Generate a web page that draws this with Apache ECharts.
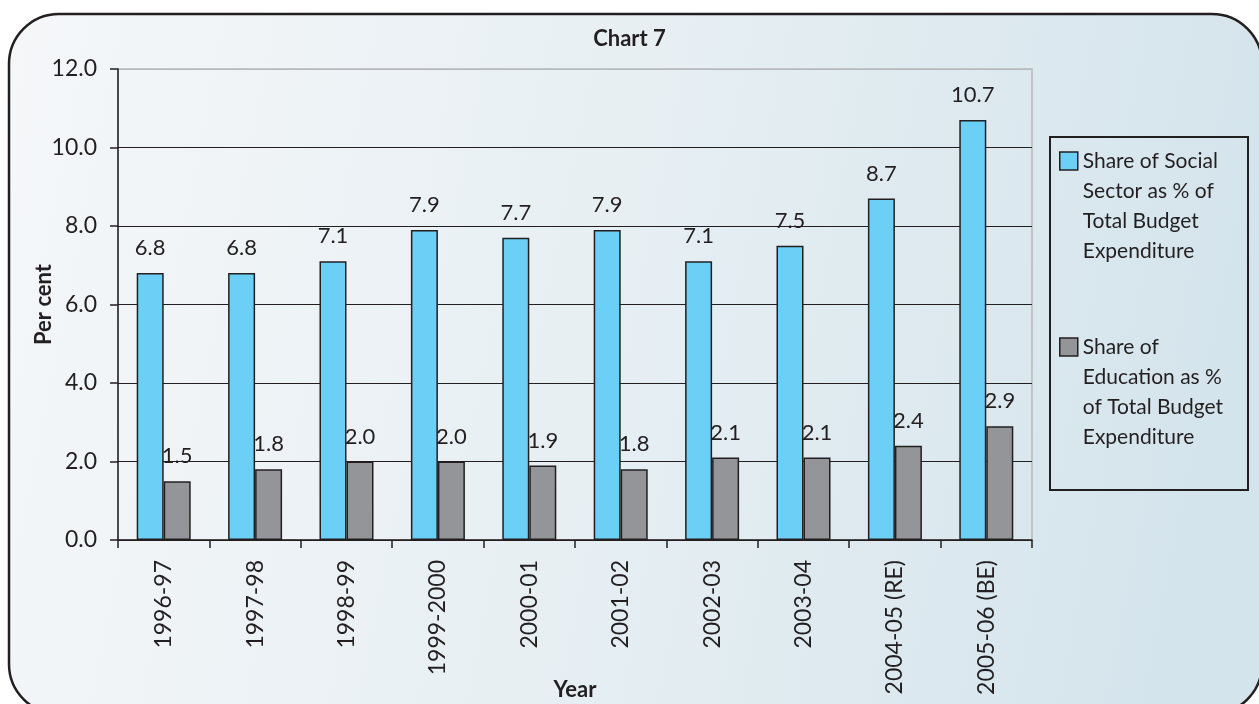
<!DOCTYPE html>
<html>
<head>
<meta charset="utf-8">
<title>Chart 7</title>
<script src="https://cdn.jsdelivr.net/npm/echarts@6/dist/echarts.min.js"></script>
<style>
  html, body { margin: 0; padding: 0; background: #ffffff; }
  #chart { width: 1259px; height: 704px; }
</style>
</head>
<body>
<div id="chart"></div>
<script>
// Fiscal years on the category axis
const years = ['1996-97', '1997-98', '1998-99', '1999-2000', '2000-01',
               '2001-02', '2002-03', '2003-04', '2004-05 (RE)', '2005-06 (BE)'];

// Share of social sector in total budget expenditure (per cent)
const socialSector = [6.8, 6.8, 7.1, 7.9, 7.7, 7.9, 7.1, 7.5, 8.7, 10.7];

// Share of education in total budget expenditure (per cent)
const education = [1.5, 1.8, 2.0, 2.0, 1.9, 1.8, 2.1, 2.1, 2.4, 2.9];

// Legend wording, one entry per line
const socialName = ['Share of Social', 'Sector as % of', 'Total Budget', 'Expenditure'];
const educationName = ['Share of', 'Education as %', 'of Total Budget', 'Expenditure'];

const FONT = 'Lato, "Noto Sans", sans-serif';
const INK = '#231f20';

const chart = echarts.init(document.getElementById('chart'), null, { renderer: 'canvas' });

const barLabel = {
  show: true,
  position: 'top',
  distance: 14,
  color: INK,
  fontFamily: FONT,
  fontSize: 22,
  formatter: p => p.value.toFixed(1)
};

chart.setOption({
  animation: false,
  graphic: [
    {
      // rounded panel behind the whole chart
      type: 'rect',
      z: -10,
      silent: true,
      shape: { x: 9, y: 14, width: 1253, height: 700, r: 50 },
      style: {
        fill: new echarts.graphic.LinearGradient(0, 0, 1, 0.35, [
          { offset: 0, color: '#f5f7f9' },
          { offset: 0.5, color: '#e7eff3' },
          { offset: 1, color: '#d4e4ec' }
        ]),
        stroke: INK,
        lineWidth: 2.5
      }
    },
    {
      // frame around the legend
      type: 'rect',
      z: -5,
      silent: true,
      shape: { x: 1050, y: 137, width: 198, height: 353 },
      style: { fill: 'none', stroke: INK, lineWidth: 2 }
    }
  ],
  title: {
    text: 'Chart 7',
    left: 'center',
    top: 23,
    textStyle: { fontFamily: FONT, fontWeight: 'bold', fontSize: 22, color: INK }
  },
  legend: {
    orient: 'vertical',
    left: 1059,
    top: 56,
    padding: 0,
    itemWidth: 18,
    itemHeight: 18,
    itemGap: -24,
    icon: 'rect',
    itemStyle: { borderColor: INK, borderWidth: 1.5 },
    // leading blank lines put the first text line level with the swatch
    formatter: name => '\n\n\n' + name,
    textStyle: {
      fontFamily: FONT,
      fontSize: 21,
      color: INK,
      lineHeight: 30
    },
    data: [socialName.join('\n'), educationName.join('\n')]
  },
  grid: {
    left: 118,
    right: 227,
    top: 69,
    bottom: 164,
    outerBoundsMode: 'none',
    containLabel: false,
    show: true,
    borderColor: '#b6b9bb',
    borderWidth: 1.5,
    backgroundColor: 'transparent'
  },
  xAxis: {
    type: 'category',
    data: years,
    name: 'Year',
    nameLocation: 'middle',
    nameGap: 139,
    nameMoveOverlap: false,
    nameTextStyle: { fontFamily: FONT, fontWeight: 'bold', fontSize: 22, color: INK },
    axisLine: { lineStyle: { color: INK, width: 1.5 } },
    axisTick: { show: true, length: 8, lineStyle: { color: INK, width: 1.5 } },
    axisLabel: {
      rotate: 90,
      margin: 20,
      fontFamily: FONT,
      fontSize: 23,
      color: INK
    },
    splitLine: { show: false }
  },
  yAxis: {
    type: 'value',
    min: 0,
    max: 12,
    interval: 2,
    name: 'Per cent',
    nameLocation: 'middle',
    nameGap: 63,
    nameRotate: 90,
    nameMoveOverlap: false,
    nameTextStyle: { fontFamily: FONT, fontWeight: 'bold', fontSize: 22, color: INK },
    axisLine: { show: true, lineStyle: { color: INK, width: 1.5 } },
    axisTick: { show: true, length: 8, lineStyle: { color: INK, width: 1.5 } },
    axisLabel: {
      margin: 21,
      fontFamily: FONT,
      fontSize: 23,
      color: INK,
      formatter: v => v.toFixed(1)
    },
    splitLine: {
      show: true,
      lineStyle: {
        color: [INK, INK, INK, INK, INK, INK, '#b6b9bb'],
        width: 1.2
      }
    }
  },
  series: [
    {
      name: socialName.join('\n'),
      type: 'bar',
      data: socialSector,
      barWidth: 27,
      barGap: '0%',
      itemStyle: { color: '#6ccff6', borderColor: INK, borderWidth: 1.5 },
      label: barLabel
    },
    {
      name: educationName.join('\n'),
      type: 'bar',
      data: education,
      barWidth: 27,
      barGap: '0%',
      itemStyle: { color: '#939598', borderColor: INK, borderWidth: 1.5 },
      label: barLabel
    }
  ]
});
</script>
</body>
</html>
